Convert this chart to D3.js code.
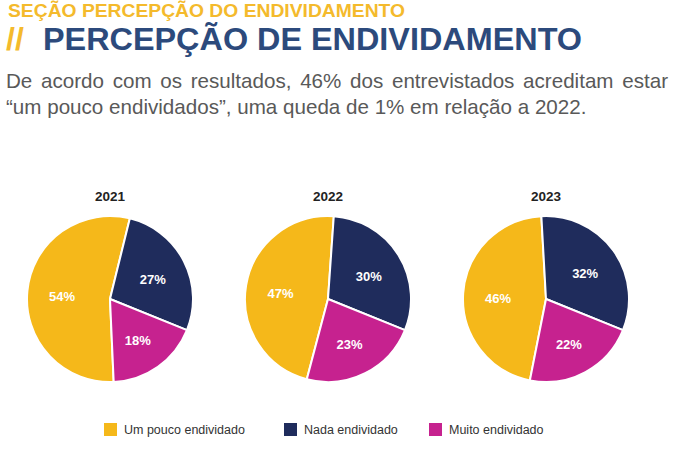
<!DOCTYPE html>
<html>
<head>
<meta charset="utf-8">
<script src="https://cdn.jsdelivr.net/npm/d3@7"></script>
<style>
  body { margin: 0; background: #fff; }
  svg { display: block; font-family: "Liberation Sans", Arial, sans-serif; }
</style>
</head>
<body>
<div id="chart"></div>
<script>
// data
var years = ["2021", "2022", "2023"];
var categories = ["Um pouco endividado", "Nada endividado", "Muito endividado"];
var umPouco = [54, 47, 46];
var nada = [27, 30, 32];
var muito = [18, 23, 22];
var colors = ["#F5B81A", "#1F2C5C", "#C6228F"];

var width = 673;
var height = 459;

var svg = d3.select("#chart").append("svg")
  .attr("width", width)
  .attr("height", height);

// header
svg.append("text")
  .attr("x", 8)
  .attr("y", 17)
  .attr("textLength", 397)
  .attr("lengthAdjust", "spacingAndGlyphs")
  .style("font-size", "18px")
  .style("font-weight", "bold")
  .style("fill", "#F4BA2C")
  .text("SEÇÃO PERCEPÇÃO DO ENDIVIDAMENTO");

svg.append("text")
  .attr("x", 6)
  .attr("y", 50)
  .style("font-size", "32px")
  .style("font-weight", "bold")
  .style("fill", "#F4BA2C")
  .text("//");

svg.append("text")
  .attr("x", 43)
  .attr("y", 50)
  .attr("textLength", 539)
  .attr("lengthAdjust", "spacingAndGlyphs")
  .style("font-size", "32px")
  .style("font-weight", "bold")
  .style("fill", "#2C4A7C")
  .text("PERCEPÇÃO DE ENDIVIDAMENTO");

// paragraph, first line justified
var lines = [
  "De acordo com os resultados, 46% dos entrevistados acreditam estar",
  "\u201cum pouco endividados\u201d, uma queda de 1% em relação a 2022."
];
lines.forEach(function(line, i) {
  var t = svg.append("text")
    .attr("x", 6)
    .attr("y", 88 + i * 26)
    .style("font-size", "20.6px")
    .style("fill", "#595959")
    .text(line);
  if (i === 0) {
    var natural = t.node().getComputedTextLength();
    var spaces = line.split(" ").length - 1;
    t.style("word-spacing", ((662 - natural) / spaces) + "px");
  }
});

// pies
var x = d3.scalePoint().domain(years).range([110, 546]);
var cy = 299;
var radius = 83;
var sliceOrder = [2, 0, 1]; // muito, um pouco, nada (clockwise)
var start = 112 * Math.PI / 180;

var pie = d3.pie()
  .value(function(d) { return d.value; })
  .sort(function(a, b) { return sliceOrder.indexOf(a.index) - sliceOrder.indexOf(b.index); })
  .startAngle(start)
  .endAngle(start + 2 * Math.PI);

var arc = d3.arc().innerRadius(0).outerRadius(radius);
var labelArc = d3.arc().innerRadius(radius * 0.58).outerRadius(radius * 0.58);

years.forEach(function(year, i) {
  var slices = [
    { index: 0, value: umPouco[i] },
    { index: 1, value: nada[i] },
    { index: 2, value: muito[i] }
  ];

  var g = svg.append("g")
    .attr("transform", "translate(" + x(year) + "," + cy + ")");

  svg.append("text")
    .attr("x", x(year))
    .attr("y", 201)
    .attr("text-anchor", "middle")
    .style("font-size", "13.5px")
    .style("font-weight", "bold")
    .style("fill", "#222")
    .text(year);

  var arcs = pie(slices);

  g.selectAll("path")
    .data(arcs)
    .enter().append("path")
    .attr("d", arc)
    .style("fill", function(d) { return colors[d.data.index]; })
    .style("stroke", "#fff")
    .style("stroke-width", 2)
    .style("stroke-linejoin", "round");

  g.selectAll("text")
    .data(arcs)
    .enter().append("text")
    .attr("transform", function(d) { return "translate(" + labelArc.centroid(d) + ")"; })
    .attr("text-anchor", "middle")
    .attr("dy", "0.55em")
    .style("font-size", "13px")
    .style("font-weight", "bold")
    .style("fill", "#fff")
    .text(function(d) { return d.data.value + "%"; });
});

// legend
var legendX = [104, 284, 429];
var legend = svg.selectAll(".legend")
  .data(categories)
  .enter().append("g")
  .attr("class", "legend")
  .attr("transform", function(d, i) { return "translate(" + legendX[i] + ",423)"; });

legend.append("rect")
  .attr("width", 13)
  .attr("height", 13)
  .style("fill", function(d, i) { return colors[i]; });

legend.append("text")
  .attr("x", 20)
  .attr("y", 11)
  .style("font-size", "12.5px")
  .style("fill", "#333")
  .text(function(d) { return d; });
</script>
</body>
</html>
